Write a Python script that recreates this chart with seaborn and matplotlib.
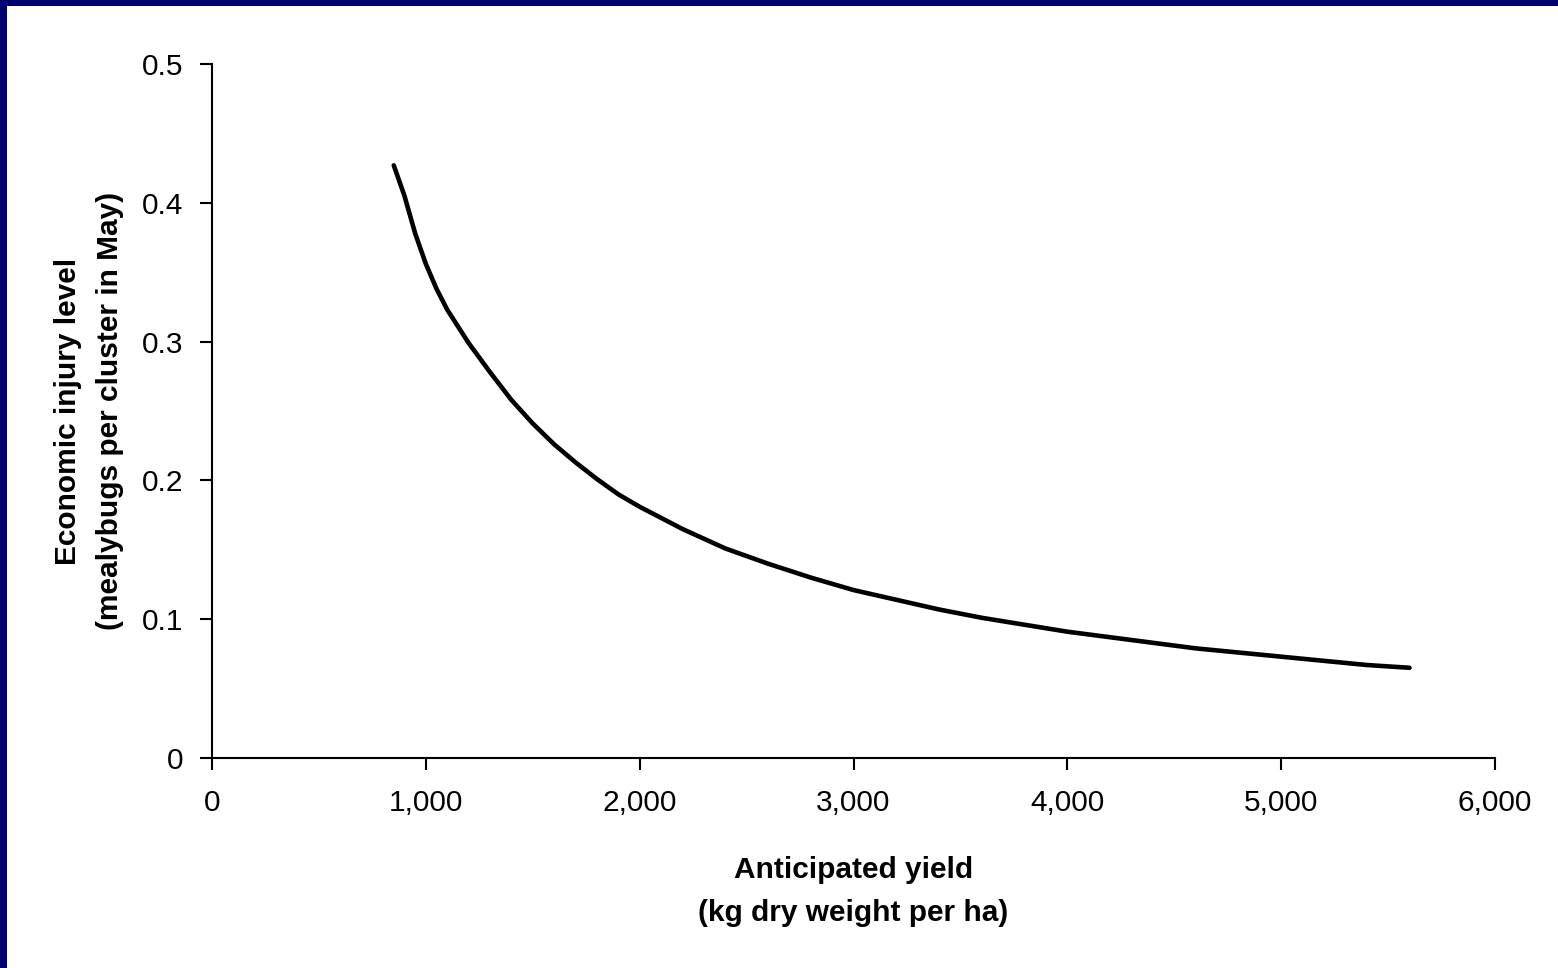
import pandas as pd
import matplotlib.pyplot as plt
import matplotlib.patches as mpatches
from matplotlib.ticker import FuncFormatter
import seaborn as sns

# Values
yield_kg = [850, 900, 950, 1000, 1050, 1100, 1200, 1300, 1400, 1500, 1600, 1700,
            1800, 1900, 2000, 2200, 2400, 2600, 2800, 3000, 3200, 3400, 3600,
            3800, 4000, 4200, 4400, 4600, 4800, 5000, 5200, 5400, 5600]
eil = [0.427, 0.405, 0.378, 0.356, 0.338, 0.323, 0.299, 0.278, 0.258, 0.241,
       0.226, 0.213, 0.201, 0.190, 0.181, 0.165, 0.151, 0.140, 0.130, 0.121,
       0.114, 0.107, 0.101, 0.096, 0.091, 0.087, 0.083, 0.079, 0.076, 0.073,
       0.070, 0.067, 0.065]
x_ticks = [0, 1000, 2000, 3000, 4000, 5000, 6000]
y_ticks = [0, 0.1, 0.2, 0.3, 0.4, 0.5]
y_tick_labels = ['0', '0.1', '0.2', '0.3', '0.4', '0.5']

df = pd.DataFrame({'Anticipated yield': yield_kg, 'EIL': eil})

sns.set_style('ticks')
plt.rcParams['font.family'] = ['Liberation Sans', 'DejaVu Sans']

fig = plt.figure(figsize=(15.58, 9.68), dpi=100)
fig.patch.set_facecolor('white')
# navy slide frame (left and top)
navy = '#000070'
fig.patches.append(mpatches.Rectangle((0, 0), 7 / 1558, 1, transform=fig.transFigure,
                                      facecolor=navy, edgecolor='none', zorder=0))
fig.patches.append(mpatches.Rectangle((0, 1 - 6 / 968), 1, 6 / 968, transform=fig.transFigure,
                                      facecolor=navy, edgecolor='none', zorder=0))

ax = fig.add_axes([212 / 1558, 1 - 758 / 968, (1495 - 212) / 1558, (758 - 64) / 968])
sns.lineplot(data=df, x='Anticipated yield', y='EIL', ax=ax, color='black', linewidth=3.3)

ax.set_xlim(0, 6000)
ax.set_ylim(0, 0.5)
ax.set_xticks(x_ticks)
ax.xaxis.set_major_formatter(FuncFormatter(lambda v, p: f'{int(v):,}'))
ax.set_yticks(y_ticks)
ax.set_yticklabels(y_tick_labels)
ax.tick_params(axis='both', direction='out', length=8.6, width=1.5, colors='black',
               labelsize=21.5)
ax.tick_params(axis='y', pad=12)
ax.tick_params(axis='x', pad=14)
for side in ['top', 'right']:
    ax.spines[side].set_visible(False)
for side in ['left', 'bottom']:
    ax.spines[side].set_linewidth(1.5)
    ax.spines[side].set_color('black')

ax.set_xlabel('Anticipated yield\n(kg dry weight per ha)', fontsize=21.5, color='black',
              fontweight='bold', labelpad=28, linespacing=1.65)
ax.set_ylabel('Economic injury level\n(mealybugs per cluster in May)', fontsize=21.5,
              color='black', fontweight='bold', labelpad=13, linespacing=1.65)

fig.savefig('out.png', dpi=100, facecolor='white')
